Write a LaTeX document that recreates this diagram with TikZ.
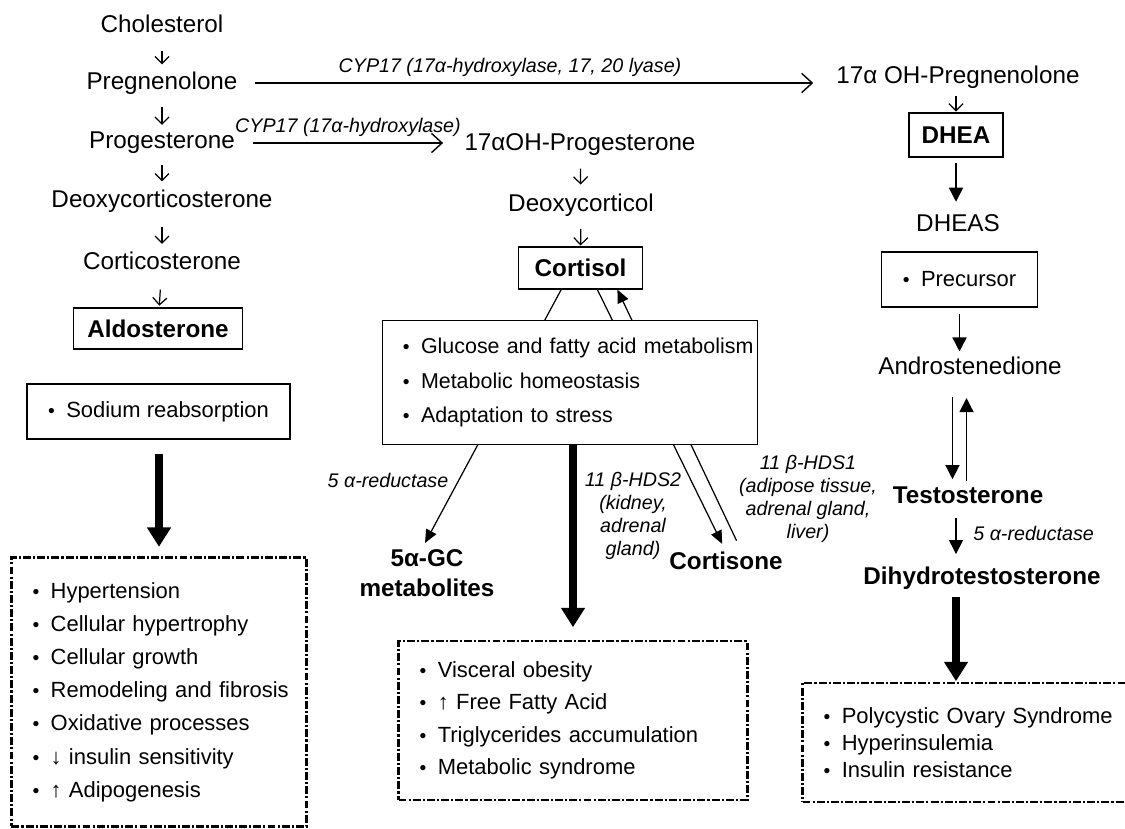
\documentclass[tikz,border=0pt]{standalone}
\usepackage{fontspec}
\setmainfont{Liberation Sans}
\usetikzlibrary{arrows.meta}
\newcommand{\bitem}[1]{\mbox{{\fontsize{11}{11}\selectfont •}\hspace{6.5pt}#1}}

\begin{document}
\begin{tikzpicture}[x=0.02cm,y=-0.02cm,
  lbl/.style={inner sep=0pt,font=\fontsize{13.8}{16.5}\selectfont},
  blbl/.style={inner sep=0pt,font=\fontsize{13.8}{17}\selectfont\bfseries},
  enz/.style={inner sep=0pt,font=\fontsize{11.2}{13}\selectfont\itshape},
  sbox/.style={draw,line width=0.8pt},
  listbox/.style={draw,line width=0.8pt,align=left,inner xsep=12pt,inner ysep=0pt,font=\fontsize{12.5}{19.8}\selectfont},
  effbox/.style={listbox,line width=1.3pt,dash pattern=on 4.5pt off 1.2pt on 1.2pt off 1.2pt},
  tinyarr/.style={-{Straight Barb[length=4pt,width=8pt]},line width=0.7pt,shorten <=8pt,shorten >=4pt},
  cyparr/.style={-{Straight Barb[length=6pt,width=11pt]},line width=0.8pt},
  medarr/.style={-{Triangle[length=8pt,width=8pt]},line width=0.8pt},
  thinarr/.style={-{Triangle[length=7.5pt,width=6.5pt]},line width=0.7pt},
  heavyarr/.style={-{Triangle[length=11pt,width=13pt]},line width=4.5pt}]
\useasboundingbox (0,0) rectangle (1125,828);
\clip (0,0) rectangle (1125,828);

% mineralocorticoid column
\node[lbl] (chol) at (162,24) {Cholesterol};
\node[lbl] (preg) at (162,83) {Pregnenolone};
\node[lbl] (prog) at (162,143) {Progesterone};
\node[lbl] (doc) at (162,201) {Deoxycorticosterone};
\node[lbl] (cortico) at (162,261) {Corticosterone};
\node[sbox,blbl,minimum width=96.4pt,minimum height=23.2pt] (aldo) at (158,328.5) {Aldosterone};
\node[listbox,minimum width=148pt,minimum height=31.2pt] (sodium) at (158.5,411.5) {\bitem{Sodium reabsorption}};
\node[effbox,text width=144pt,minimum height=153pt,font=\fontsize{12.5}{18.9}\selectfont] (aldoeff) at (159,692)
  {\bitem{Hypertension}\\ \bitem{Cellular hypertrophy}\\ \bitem{Cellular growth}\\ \bitem{Remodeling and fibrosis}\\
   \bitem{Oxidative processes}\\ \bitem{↓ insulin sensitivity}\\ \bitem{↑ Adipogenesis}};

\draw[tinyarr,shorten <=10pt] (chol) -- (preg);
\draw[tinyarr,shorten <=7pt] (preg) -- (prog);
\draw[tinyarr,shorten <=6pt,shorten >=4.5pt] (prog) -- (doc);
\draw[tinyarr,shorten >=4.5pt] (doc) -- (cortico);
\draw[tinyarr,shorten <=11pt,shorten >=1pt] (cortico) -- (aldo);
\draw[heavyarr,shorten <=8pt,shorten >=5.5pt] (sodium.south -| aldoeff.north) -- (aldoeff.north);

% glucocorticoid column
\node[lbl] (ohprog) at (580,145) {17αOH-Progesterone};
\node[lbl] (deoxyc) at (581,205) {Deoxycorticol};
\node[sbox,blbl,minimum width=70.9pt,minimum height=23.8pt] (cortisol) at (580.5,268) {Cortisol};
\node[blbl,align=center] (gcmet) at (427,573) {5α-GC\\metabolites};
\node[blbl] (cortisone) at (726,561) {Cortisone};

\draw[tinyarr,shorten <=7pt,shorten >=5pt] (ohprog) -- (deoxyc);
\draw[tinyarr,shorten <=7pt,shorten >=0.5pt] (deoxyc) -- (cortisol);
\draw[thinarr,shorten >=4pt] ([xshift=-11pt]cortisol.south) -- ([xshift=-3pt]gcmet.north);
\draw[thinarr,shorten >=5pt] ([xshift=9.6pt]cortisol.south) -- (cortisone.north);
\draw[thinarr,shorten <=7pt] ([xshift=9pt]cortisone.north) -- ([xshift=21pt]cortisol.south);

\node[listbox,fill=white,text width=190.3pt,inner xsep=11.5pt,minimum height=70.9pt,font=\fontsize{12.2}{19.8}\selectfont] (cortfx) at (570,382.5)
  {\bitem{Glucose and fatty acid metabolism}\\ \bitem{Metabolic homeostasis}\\ \bitem{Adaptation to stress}};
\node[effbox,text width=174.6pt,minimum height=90.1pt,font=\fontsize{12.5}{18.5}\selectfont] (cortisoleff) at (573,720.5)
  {\bitem{Visceral obesity}\\ \bitem{↑ Free Fatty Acid}\\ \bitem{Triglycerides accumulation}\\ \bitem{Metabolic syndrome}};
\draw[heavyarr,shorten >=7.4pt] (cortfx.south -| cortisoleff.north) -- (cortisoleff.north);

% androgen column
\node[lbl] (ohpreg) at (958,77) {17α OH-Pregnenolone};
\node[sbox,blbl,minimum width=53.3pt,minimum height=24.9pt] (dhea) at (956,135) {DHEA};
\node[lbl] (dheas) at (958,223) {DHEAS};
\node[listbox,minimum width=86.7pt,minimum height=31.2pt] (precursor) at (959.5,279.5) {\bitem{Precursor}};
\node[lbl] (andro) at (970,366) {Androstenedione};
\node[blbl] (testo) at (968,495) {Testosterone};
\node[blbl] (dht) at (982,578) {Dihydrotestosterone};
\node[effbox,text width=167.8pt,minimum height=67.5pt,font=\fontsize{12.5}{15.3}\selectfont] (dhteff) at (971,742.5)
  {\bitem{Polycystic Ovary Syndrome}\\ \bitem{Hyperinsulemia}\\ \bitem{Insulin resistance}};

\draw[tinyarr,shorten <=4pt,shorten >=0.5pt] (ohpreg.south -| dhea.north) -- (dhea.north);
\draw[medarr,shorten <=3pt,shorten >=7pt] (dhea.south) -- (dheas.north -| dhea.south);
\draw[medarr,shorten <=3.5pt,shorten >=3pt] (precursor.south) -- (andro.north -| precursor.south);
\draw[medarr,shorten <=12.5pt,shorten >=4pt] ([xshift=-4pt]andro.south -| precursor.south) -- ([xshift=-4pt]testo.north -| precursor.south);
\draw[medarr,shorten <=3pt,shorten >=13pt] ([xshift=4pt]testo.north -| precursor.south) -- ([xshift=4pt]andro.south -| precursor.south);
\draw[medarr,shorten <=8pt,shorten >=7pt] (testo.south -| dhea.south) -- (dht.north -| dhea.south);
\draw[heavyarr,shorten <=4pt,shorten >=0.5pt] (dht.south -| dhea.south) -- (dhteff.north -| dhea.south);

% CYP17 steps
\draw[cyparr,shorten <=10pt,shorten >=13pt] (preg) -- (preg -| ohpreg.west);
\draw[cyparr,shorten <=10pt,shorten >=12pt] (prog) -- (prog -| ohprog.west);

% enzyme labels
\node[enz] (cyp1) at (510,67) {CYP17 (17α-hydroxylase, 17, 20 lyase)};
\node[enz] (cyp2) at (348,127) {CYP17 (17α-hydroxylase)};
\node[enz] (red1) at (388,480) {5 α-reductase};
\node[enz,align=center] (hds2) at (633,516) {11 β-HDS2\\(kidney,\\adrenal\\gland)};
\node[enz,align=center] (hds1) at (808,499) {11 β-HDS1\\(adipose tissue,\\adrenal gland,\\liver)};
\node[enz,anchor=west] (red2) at (973,533) {5 α-reductase};
\end{tikzpicture}
\end{document}
